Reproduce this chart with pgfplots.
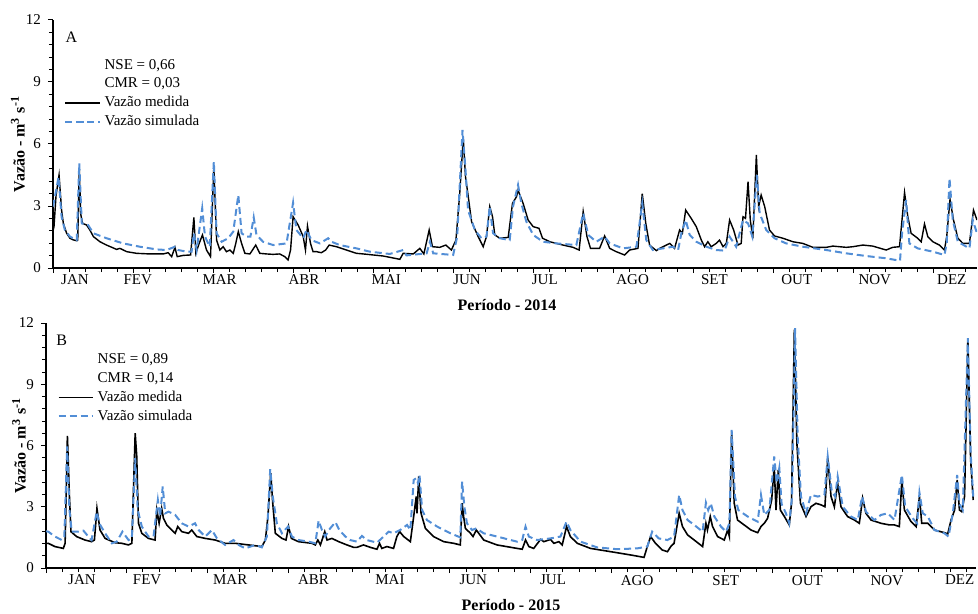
\documentclass[border=0pt]{standalone}
\usepackage{fontspec}
\setmainfont{Liberation Serif}
\usepackage{pgfplots}
\usepackage{pgfplotstable}
\pgfplotsset{compat=1.18}
\definecolor{simblue}{RGB}{82,142,214}

% Painel A (2014): dia do ano, vazao (m3/s)
\pgfplotstableread{
d v
0 1.8
0.4 2.0
1.2 3.5
2.4 4.5
3.4 2.8
4.1 2.16
5.4 1.68
6.7 1.44
8.0 1.36
9.4 1.32
9.8 1.35
10.4 4.8
11.0 2.6
11.7 2.16
13.3 2.08
14.6 1.84
16.0 1.52
18.6 1.27
21.2 1.11
25.2 0.9
26.5 0.95
29.2 0.79
33.1 0.71
38.4 0.68
43.7 0.68
45.6 0.74
47.0 0.55
48.3 1.0
49.2 0.55
51.6 0.61
54.5 0.63
55.8 2.45
56.6 0.71
57.9 1.19
59.2 1.6
60.8 0.87
62.4 0.55
63.7 4.9
64.8 1.35
66.1 0.87
67.4 1.03
68.7 0.79
70.1 0.87
71.4 0.71
72.4 1.19
73.4 1.76
74.7 1.19
76.0 0.71
78.0 0.68
80.3 1.11
81.9 0.71
84.6 0.68
87.2 0.66
89.8 0.68
91.8 0.55
93.1 0.39
94.1 0.87
95.1 2.48
97.1 2.08
99.1 1.52
100.0 0.87
100.8 2.03
102.0 1.19
103.0 0.79
104.4 0.79
106.3 0.74
108.0 0.87
109.4 1.11
112.3 1.03
116.2 0.87
120.2 0.71
122.9 0.68
130.8 0.58
137.4 0.42
138.7 0.71
142.7 0.68
145.3 0.95
146.9 0.68
149.0 1.84
150.3 1.03
153.2 1.0
155.6 1.11
157.8 0.87
159.6 1.35
161.1 3.6
162.5 6.27
163.4 4.4
164.4 3.53
165.8 2.24
168.4 1.52
170.4 1.03
171.7 1.52
173.0 2.97
174.1 2.48
175.0 1.6
177.0 1.44
180.3 1.48
182.0 3.13
183.6 3.45
184.2 3.77
186.2 3.13
188.2 2.32
190.2 2.0
192.5 1.92
193.9 1.44
196.8 1.27
202.0 1.11
206.0 1.0
208.4 0.87
210.0 2.73
211.5 1.52
212.9 0.95
216.5 0.95
218.5 1.55
220.5 0.95
223.1 0.79
226.4 0.63
228.4 0.87
231.7 0.95
233.4 3.6
234.8 2.16
236.3 1.11
239.0 0.84
240.3 0.95
244.3 1.19
246.2 0.95
248.2 1.84
249.3 1.68
250.6 2.8
252.8 2.4
254.8 2.0
256.8 1.35
258.1 1.03
259.4 1.27
260.7 1.03
262.7 1.19
264.0 1.35
265.4 1.03
266.7 1.19
268.0 2.32
269.6 1.84
271.3 1.11
272.6 1.19
273.3 2.48
274.3 2.4
275.3 4.18
276.2 2.32
277.2 1.44
278.6 5.47
279.5 2.97
280.5 3.53
281.9 2.97
283.8 1.84
285.8 1.55
289.1 1.44
293.1 1.27
297.0 1.19
301.0 1.0
306.3 1.0
308.9 1.06
314.2 1.0
316.8 1.03
320.8 1.11
324.7 1.06
330.0 0.87
332.6 1.0
335.3 1.03
337.3 3.65
338.6 2.48
339.9 1.68
342.5 1.44
343.9 1.27
345.2 2.13
346.5 1.52
348.5 1.27
351.1 1.11
353.1 0.87
354.0 1.52
355.3 3.32
356.7 2.32
358.4 1.44
360.4 1.19
363.0 1.19
364.6 2.8
366.0 2.32
}\medA

\pgfplotstableread{
d v
0 2.97
1.0 3.6
2.2 4.4
3.4 2.48
4.7 1.84
6.7 1.52
9.4 1.35
10.4 5.06
11.4 2.16
13.9 2.08
16.0 1.68
21.2 1.44
27.8 1.19
34.4 1.03
41.0 0.9
45.0 0.87
48.3 1.03
49.6 0.87
52.9 0.79
54.9 0.79
55.8 1.68
56.9 0.87
59.1 2.89
60.2 1.52
62.1 1.03
63.7 5.15
64.8 1.68
66.8 1.27
69.4 1.44
71.4 1.76
73.4 3.53
74.7 1.68
76.6 1.52
78.2 1.52
79.5 2.45
80.6 1.6
83.2 1.27
87.2 1.11
92.5 1.19
95.1 3.16
96.4 1.84
99.1 1.44
100.4 1.84
102.4 1.35
105.7 1.19
109.0 1.44
110.3 1.27
113.6 1.11
120.2 0.95
125.5 0.79
133.4 0.68
138.7 0.87
140.0 0.61
148.0 0.71
149.3 1.27
150.6 0.71
158.5 0.63
160.1 1.52
162.2 6.68
163.4 4.74
164.4 2.8
167.1 1.84
169.7 1.44
171.7 1.52
173.0 2.97
174.3 1.68
177.0 1.44
180.9 1.35
182.2 2.97
184.2 4.02
185.5 3.13
187.5 2.24
190.2 1.6
194.1 1.27
199.4 1.19
207.3 1.11
210.0 2.65
212.0 1.6
215.2 1.27
218.5 1.52
220.5 1.19
225.8 0.95
231.1 1.03
233.4 3.13
235.0 1.35
237.6 0.87
241.6 0.95
245.6 1.03
247.6 0.87
248.9 1.68
250.6 2.32
252.2 1.6
254.8 1.27
258.8 1.03
262.7 0.87
266.0 0.84
268.0 1.52
270.6 1.03
273.3 2.32
275.3 2.16
277.0 1.52
278.8 4.5
279.9 2.65
282.5 1.84
285.8 1.44
290.4 1.19
297.0 1.03
306.3 0.87
314.2 0.71
322.1 0.58
330.0 0.47
335.5 0.35
336.3 1.68
337.9 3.29
339.2 1.19
342.5 0.95
348.5 0.79
353.1 0.63
354.0 1.19
355.1 4.34
356.4 2.32
358.4 1.27
363.0 0.95
364.3 2.32
366.0 1.68
}\simA

% Painel B (2015)
\pgfplotstableread{
d v
0 1.2
0.9 1.21
3.5 1.05
6.8 0.96
7.5 1.21
8.4 6.47
9.2 3.5
9.8 1.78
12.0 1.54
15.3 1.37
17.9 1.29
19.0 1.37
20.0 2.92
21.2 1.86
23.2 1.45
27.1 1.24
29.7 1.21
32.4 1.13
33.7 1.21
35.0 6.6
35.6 5.5
36.3 2.19
37.6 1.7
40.2 1.45
42.8 1.37
43.5 2.84
44.4 2.19
45.4 2.92
46.1 2.43
47.4 2.11
49.4 1.86
50.7 1.7
51.7 2.03
53.3 1.78
55.9 1.7
57.2 1.86
59.2 1.54
62.5 1.45
66.4 1.37
70.3 1.21
74.3 1.21
79.5 1.13
84.7 1.05
86.1 1.37
87.1 2.52
88.2 4.64
89.0 3.17
90.0 1.7
92.6 1.45
94.2 1.37
95.2 2.03
96.3 1.45
99.1 1.29
104.4 1.21
105.7 1.13
106.7 1.37
107.7 1.13
109.4 1.78
110.3 1.37
112.2 1.45
114.9 1.29
118.1 1.13
120.8 1.01
122.0 1.01
124.6 1.13
127.3 1.01
129.9 0.92
130.9 1.21
131.8 0.96
133.8 1.05
136.4 0.96
137.7 1.54
138.8 1.78
140.4 1.54
143.0 1.29
144.3 2.52
145.3 3.5
145.6 2.68
146.3 4.48
147.2 2.68
148.9 1.94
152.1 1.54
156.1 1.29
160.0 1.21
162.6 1.13
163.3 3.17
163.9 2.52
164.6 1.94
166.6 1.7
167.6 1.54
168.9 1.86
171.8 1.37
177.0 1.13
184.9 0.96
186.9 0.92
188.2 1.37
189.5 1.05
191.4 0.96
194.1 1.4
195.4 1.29
198.0 1.4
199.3 1.21
201.3 1.29
202.6 1.13
204.3 2.03
205.8 1.54
208.5 1.21
213.7 0.96
221.6 0.8
229.4 0.64
234.7 0.52
236.0 1.05
237.3 1.54
239.2 1.21
241.9 0.88
243.9 0.80
245.2 1.05
246.5 1.21
248.5 2.68
249.8 2.03
251.8 1.62
254.4 1.37
257.7 1.05
259.0 2.19
259.6 1.86
260.7 2.52
261.6 2.03
263.6 1.54
266.2 1.37
267.5 1.86
268.2 1.54
269.1 6.68
270.1 3.17
271.4 2.35
274.0 2.11
276.7 1.86
279.3 1.73
280.6 2.03
281.9 2.19
283.2 2.43
284.8 3.33
285.8 4.97
286.5 2.84
287.4 4.8
288.2 2.84
289.8 2.52
291.7 2.11
292.6 3.17
293.7 11.67
294.7 6.11
296.1 3.17
298.3 2.52
300.2 3.0
302.2 3.17
304.2 3.09
305.7 3.0
306.8 5.38
308.1 3.5
309.4 3.0
310.7 4.15
312.0 3.0
314.6 2.52
317.3 2.35
319.2 2.19
320.5 3.42
321.8 2.68
323.8 2.35
327.7 2.19
331.0 2.11
333.0 2.11
334.9 2.03
335.9 4.31
336.9 2.84
339.5 2.27
341.5 2.03
342.8 3.5
343.7 2.19
346.1 2.19
348.7 1.86
352.6 1.73
353.9 1.67
355.2 2.35
356.6 2.84
357.6 4.31
358.5 2.84
359.4 2.76
360.5 3.5
361.8 11.18
362.9 5.29
363.9 3.33
}\medB

\pgfplotstableread{
d v
0 1.8
0.9 1.78
3.5 1.54
6.2 1.37
7.2 1.54
8.3 5.95
9.2 2.84
10.1 1.78
12.7 1.78
14.7 1.83
16.6 1.54
17.9 1.37
19.9 2.76
20.9 2.19
23.2 1.7
25.8 1.21
27.8 1.29
30.0 1.78
32.4 1.37
33.7 1.45
35.0 5.38
36.0 2.84
37.6 2.03
40.2 1.54
42.2 1.54
43.9 3.33
44.8 2.52
45.8 3.99
46.8 2.68
48.1 2.76
50.7 2.6
53.3 2.19
55.9 2.03
58.5 2.19
59.9 1.86
62.5 1.54
65.1 1.86
67.1 1.45
70.3 1.13
73.6 1.37
75.6 1.13
78.2 0.96
82.1 1.13
84.7 1.01
86.7 1.54
88.0 4.84
89.0 3.5
90.6 2.19
92.6 1.7
95.0 2.03
96.5 1.54
99.1 1.37
103.1 1.29
105.7 1.21
107.0 2.32
108.3 1.86
109.6 1.54
111.0 1.86
113.6 2.25
115.1 1.86
117.5 1.54
119.4 1.37
122.0 1.29
124.0 1.57
125.9 1.37
129.9 1.24
132.5 1.54
134.5 1.78
136.4 1.7
139.0 1.86
141.7 2.11
143.0 1.86
144.3 4.31
145.3 4.4
146.0 4.15
146.6 4.56
147.6 2.84
149.5 2.35
153.5 2.03
158.7 1.7
162.6 1.5
163.3 4.23
164.2 3.0
165.2 2.19
167.2 1.86
168.9 1.94
171.8 1.7
177.0 1.54
184.9 1.29
186.9 1.37
188.2 2.03
189.5 1.54
192.7 1.37
198.0 1.45
201.9 1.54
204.3 2.27
205.8 1.86
209.8 1.29
216.3 1.01
224.2 0.92
232.0 0.96
236.0 1.05
237.9 1.78
240.5 1.45
243.9 1.37
246.5 1.54
248.5 3.58
249.8 2.84
251.8 2.35
254.4 2.11
257.7 1.78
259.0 3.2
259.9 2.84
260.9 3.17
262.3 2.52
264.9 2.03
266.9 1.78
268.2 2.19
269.1 6.76
270.4 3.5
271.7 2.84
275.4 2.52
279.3 2.27
280.6 3.58
281.9 2.6
283.9 2.84
285.8 5.46
286.8 4.15
287.8 4.89
288.7 3.13
290.4 2.68
291.7 2.19
292.8 3.5
294.0 11.75
295.0 6.44
296.3 3.5
298.3 2.68
300.2 3.58
302.9 3.5
305.5 3.58
306.8 5.46
308.4 3.74
309.7 3.5
310.7 4.48
312.7 3.0
315.9 2.52
318.6 2.35
320.3 3.5
321.8 2.76
325.1 2.35
327.7 2.6
330.4 2.68
333.0 2.35
335.9 4.56
337.2 3.0
340.2 2.43
341.9 2.19
342.8 3.69
344.1 2.68
346.1 2.52
348.7 1.86
352.6 1.7
354.2 1.54
355.9 2.68
357.6 4.56
358.5 3.13
359.8 2.84
361.8 11.26
362.9 5.62
363.9 3.5
}\simB

\pgfplotsset{
  vazao/.style={
    scale only axis,
    ymin=0, ymax=12, ytick={0,3,6,9,12}, minor y tick num=4,
    axis x line*=bottom, axis y line*=left,
    axis line style={line width=0.6pt},
    tick align=outside, major tick length=2.5pt, minor tick length=2pt,
    every tick/.style={black, line width=0.5pt},
    xticklabels={}, minor x tick num=4,
    extra x tick style={major tick length=0pt},
    extra x tick labels={JAN,FEV,MAR,ABR,MAI,JUN,JUL,AGO,SET,OUT,NOV,DEZ},
    tick label style={font=\fontsize{7.5}{9}\selectfont},
    /pgf/number format/assume math mode=true,
    ylabel={Vazão - m\textsuperscript{3} s\textsuperscript{-1}},
    label style={font=\bfseries\fontsize{8}{9}\selectfont},
    ylabel style={anchor=center},
    xlabel style={at={(axis description cs:0.5,0)}, anchor=center, yshift=-18.5pt},
    legend style={draw=none, fill=none, inner sep=0pt, row sep=-1.2pt,
      font=\fontsize{7.5}{9}\selectfont},
    legend cell align=left,
  },
  med/.style={black, line width=0.7pt},
  sim/.style={simblue, line width=1pt, dash pattern=on 3.5pt off 2pt},
}

\begin{document}
\begin{tikzpicture}
\useasboundingbox (0,0) rectangle (489pt,-307pt);

\begin{axis}[vazao, at={(26.5pt,-134pt)}, anchor=south west,
  width=462pt, height=124pt, xmin=0, xmax=366,
  xtick={0,31.7,...,366},
  extra x ticks={8.7,33.6,66,99.4,132,164,194.8,229.6,262,294.6,325.5,356},
  xlabel={Período - 2014}, xlabel style={xshift=-4pt},
  ylabel style={at={(axis description cs:-0.038,0.5)}},
  legend style={at={(rel axis cs:0.012,0.86)}, anchor=north west}]
\addlegendimage{empty legend}\addlegendentry{NSE = 0,66}
\addlegendimage{empty legend}\addlegendentry{CMR = 0,03}
\addplot[med] table[x=d, y=v] {\medA};
\addlegendentry{Vazão medida}
\addplot[sim] table[x=d, y=v] {\simA};
\addlegendentry{Vazão simulada}
\node[anchor=center, font=\fontsize{8}{9}\selectfont] at (rel axis cs:0.02,0.93) {A};
\end{axis}

\begin{axis}[vazao, at={(23pt,-284pt)}, anchor=south west,
  width=465pt, height=122.5pt, xmin=0, xmax=365,
  xtick={0,31.7,...,365},
  extra x ticks={14.1,39.7,72.3,105,135,167.7,199,232,266.8,298.8,330,358.6},
  xlabel={Período - 2015},
  ylabel style={at={(axis description cs:-0.029,0.5)}},
  legend style={at={(rel axis cs:0.012,0.893)}, anchor=north west}]
\addlegendimage{empty legend}\addlegendentry{NSE = 0,89}
\addlegendimage{empty legend}\addlegendentry{CMR = 0,14}
\addplot[med, line width=0.8pt] table[x=d, y=v] {\medB};
\addlegendentry{Vazão medida}
\addplot[sim] table[x=d, y=v] {\simB};
\addlegendentry{Vazão simulada}
\node[anchor=center, font=\fontsize{8}{9}\selectfont] at (rel axis cs:0.017,0.93) {B};
\end{axis}
\end{tikzpicture}
\end{document}
